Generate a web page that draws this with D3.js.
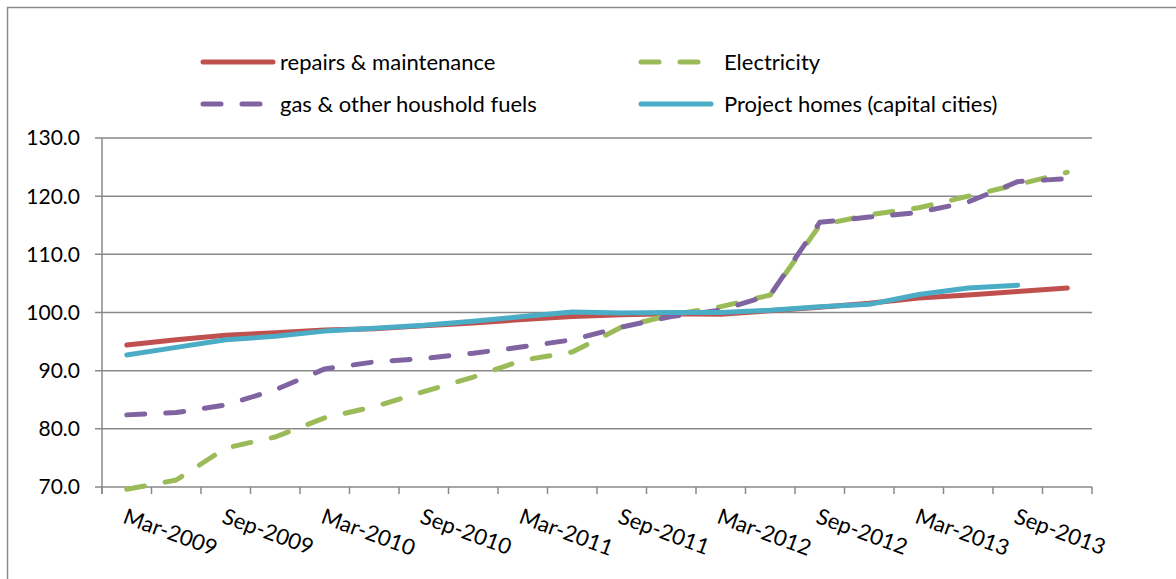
<!DOCTYPE html>
<html><head><meta charset="utf-8">
<script src="https://cdn.jsdelivr.net/npm/d3@7"></script>
<style>body{margin:0;background:#fff}svg{display:block}text{font-family:Lato,"Open Sans",sans-serif;fill:#000}</style>
</head><body><svg id="c" width="1176" height="579"></svg>
<script>
const categories = ["Mar-2009","Jun-2009","Sep-2009","Dec-2009","Mar-2010","Jun-2010","Sep-2010","Dec-2010","Mar-2011","Jun-2011","Sep-2011","Dec-2011","Mar-2012","Jun-2012","Sep-2012","Dec-2012","Mar-2013","Jun-2013","Sep-2013","Dec-2013"];
const repairs = [94.4,95.3,96.1,96.5,97.0,97.2,97.7,98.2,98.8,99.3,99.6,99.8,99.7,100.3,100.9,101.6,102.5,103.0,103.6,104.2];
const electricity = [69.6,71.2,76.7,78.6,81.9,83.8,86.4,88.9,91.8,93.2,97.5,99.6,101.0,103.0,115.0,116.8,118.0,120.0,122.0,124.1];
const gas = [82.4,82.8,84.1,86.7,90.3,91.5,92.1,93.0,94.1,95.3,97.5,99.3,100.4,103.0,115.5,116.4,117.2,119.0,122.5,123.0];
const projectHomes = [92.7,94.0,95.3,95.9,96.8,97.3,97.8,98.5,99.3,100.1,99.9,100.0,100.0,100.4,101.0,101.4,103.1,104.2,104.7];
const yTicks = [70,80,90,100,110,120,130];
const seriesNames = ["repairs & maintenance","Electricity","gas & other houshold fuels","Project homes (capital cities)"];

const series = [
  {name: seriesNames[0], values: repairs, color: "#C0504D", dash: null},
  {name: seriesNames[1], values: electricity, color: "#9BBB59", dash: "18 21"},
  {name: seriesNames[2], values: gas, color: "#8064A2", dash: "18 21"},
  {name: seriesNames[3], values: projectHomes, color: "#4BACC6", dash: null}
];

const svg = d3.select("#c");
// outer frame (top and left edges visible)
svg.append("path").attr("d","M7.5,600V7.5H1180").attr("fill","none").attr("stroke","#8c8c8c").attr("stroke-width",1.5);

const x = d3.scaleBand().domain(categories).range([102,1092]).padding(0);
const y = d3.scaleLinear().domain([70,130]).range([487,138]);
const cx = c => x(c) + x.bandwidth()/2;

// gridlines
svg.append("g").selectAll("line").data(yTicks).join("line")
  .attr("x1",95).attr("x2",1092).attr("y1",d=>y(d)).attr("y2",d=>y(d))
  .attr("stroke","#898989").attr("stroke-width",1.5);
// y axis line
svg.append("line").attr("x1",102).attr("x2",102).attr("y1",y(130)).attr("y2",y(70)+7).attr("stroke","#898989").attr("stroke-width",1.5);
// y labels
svg.append("g").selectAll("text").data(yTicks).join("text")
  .attr("x",80).attr("y",d=>y(d)).attr("dy","0.35em").attr("text-anchor","end")
  .style("font-size","21px").text(d=>d.toFixed(1));
// x ticks at band boundaries
const bounds = categories.map(c=>x(c)).concat([x.range()[1]]);
svg.append("g").selectAll("line").data(bounds).join("line")
  .attr("x1",d=>d).attr("x2",d=>d).attr("y1",y(70)).attr("y2",y(70)+7)
  .attr("stroke","#898989").attr("stroke-width",1.5);
// x labels
svg.append("g").selectAll("text").data(categories.filter((c,i)=>i%2===0)).join("text")
  .attr("transform",c=>`translate(${cx(c)+1},${506}) rotate(20)`)
  .attr("dy","0.8em").style("font-size","22px").text(c=>c);

// lines
const line = d3.line().x((d,i)=>cx(categories[i])).y(d=>y(d));
svg.append("g").selectAll("path").data(series).join("path")
  .attr("d",s=>line(s.values)).attr("fill","none").attr("stroke",s=>s.color)
  .attr("stroke-width",5).attr("stroke-linecap","round").attr("stroke-linejoin","round")
  .attr("stroke-dasharray",s=>s.dash);

// legend
const legPos = [[203,62],[641,62],[203,104],[641,104]];
const leg = svg.append("g").selectAll("g").data(series).join("g")
  .attr("transform",(s,i)=>`translate(${legPos[i][0]},${legPos[i][1]})`);
leg.append("line").attr("x1",0).attr("x2",70).attr("stroke",s=>s.color).attr("stroke-width",5)
  .attr("stroke-linecap","round").attr("stroke-dasharray",s=>s.dash);
leg.append("text").attr("x",(s,i)=>i%2===0?77:83).attr("dy","0.35em").style("font-size","22px").text(s=>s.name);
</script></body></html>
